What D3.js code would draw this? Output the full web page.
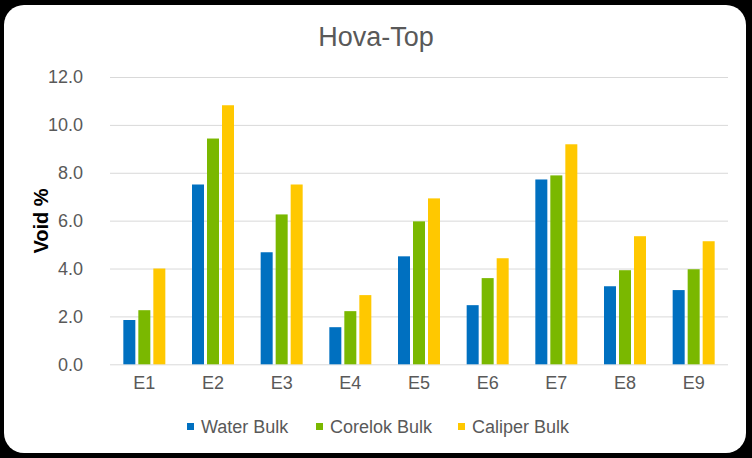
<!DOCTYPE html>
<html><head><meta charset="utf-8">
<script src="https://cdn.jsdelivr.net/npm/d3@7"></script>
<style>body{margin:0;background:#000;}svg{display:block;}</style>
</head><body>
<script>
const categories = ["E1","E2","E3","E4","E5","E6","E7","E8","E9"];
const seriesNames = ["Water Bulk","Corelok Bulk","Caliper Bulk"];
const waterBulk   = [1.85, 7.51, 4.68, 1.55, 4.51, 2.47, 7.72, 3.26, 3.10];
const corelokBulk = [2.26, 9.43, 6.26, 2.22, 5.97, 3.60, 7.89, 3.93, 3.97];
const caliperBulk = [4.00, 10.82, 7.51, 2.89, 6.93, 4.43, 9.19, 5.35, 5.14];
const yTicks = [0,2,4,6,8,10,12];
const colors = ["#0070C0","#7AB800","#FFC800"];

(function(){
const W = 752, H = 458;
const svg = d3.select("body").append("svg").attr("width",W).attr("height",H);
svg.append("rect").attr("width",W).attr("height",H).attr("fill","#000");
svg.append("rect").attr("x",4).attr("y",5).attr("width",742).attr("height",448).attr("rx",20).attr("fill","#fff");

const font = "'Liberation Sans', Arial, sans-serif";
const pLeft = 110, pRight = 728, pTop = 77, pBottom = 364.3;
const y = d3.scaleLinear().domain([0,12]).range([pBottom, pTop]);
const x0 = d3.scaleBand().domain(categories).range([pLeft,pRight]).padding(0);
const gw = 42;
const x1 = d3.scaleBand().domain(seriesNames)
  .range([(x0.bandwidth()-gw)/2, (x0.bandwidth()+gw)/2]).paddingInner(0.2).paddingOuter(0);

// gridlines
const yAxis = d3.axisLeft(y).tickValues(yTicks).tickSize(-(pRight-pLeft)).tickFormat(d3.format(".1f")).tickPadding(27);
const ga = svg.append("g").attr("transform",`translate(${pLeft},0)`).call(yAxis);
ga.select(".domain").remove();
ga.selectAll(".tick line").attr("stroke","#d9d9d9").attr("stroke-width",1);
ga.selectAll(".tick text").attr("fill","#595959").style("font-family",font).style("font-size","18px");

// bars
const data = categories.map((c,i)=>({c, vals:[waterBulk[i],corelokBulk[i],caliperBulk[i]]}));
const groups = svg.append("g").selectAll("g").data(data).join("g")
  .attr("transform",d=>`translate(${x0(d.c)},0)`);
groups.selectAll("rect").data(d=>d.vals.map((v,j)=>({s:seriesNames[j],v,j}))).join("rect")
  .attr("x",d=>x1(d.s)).attr("width",x1.bandwidth())
  .attr("y",d=>y(d.v)).attr("height",d=>y(0)-y(d.v)).attr("fill",d=>colors[d.j]);

// x axis labels
const xAxis = d3.axisBottom(x0).tickSize(0).tickPadding(12);
const gx = svg.append("g").attr("transform",`translate(0,${pBottom})`).call(xAxis);
gx.select(".domain").remove();
gx.selectAll(".tick text").attr("fill","#595959").style("font-family",font).style("font-size","18px");

// title
svg.append("text").attr("x",376).attr("y",46).attr("text-anchor","middle")
  .attr("fill","#595959").style("font-family",font).style("font-size","27px").text("Hova-Top");

// y axis title
svg.append("text").attr("transform","translate(48,221) rotate(-90)").attr("text-anchor","middle")
  .attr("fill","#000").style("font-family",font).style("font-size","20px").style("font-weight","bold").text("Void %");

// legend
const legX = [187, 316, 458];
const leg = svg.append("g").selectAll("g").data(seriesNames).join("g")
  .attr("transform",(d,i)=>`translate(${legX[i]},0)`);
leg.append("rect").attr("x",0).attr("y",423).attr("width",7).attr("height",7).attr("fill",(d,i)=>colors[i]);
leg.append("text").attr("x",14).attr("y",433).attr("fill","#595959")
  .style("font-family",font).style("font-size","18px").text(d=>d);
})();
</script>
</body></html>
